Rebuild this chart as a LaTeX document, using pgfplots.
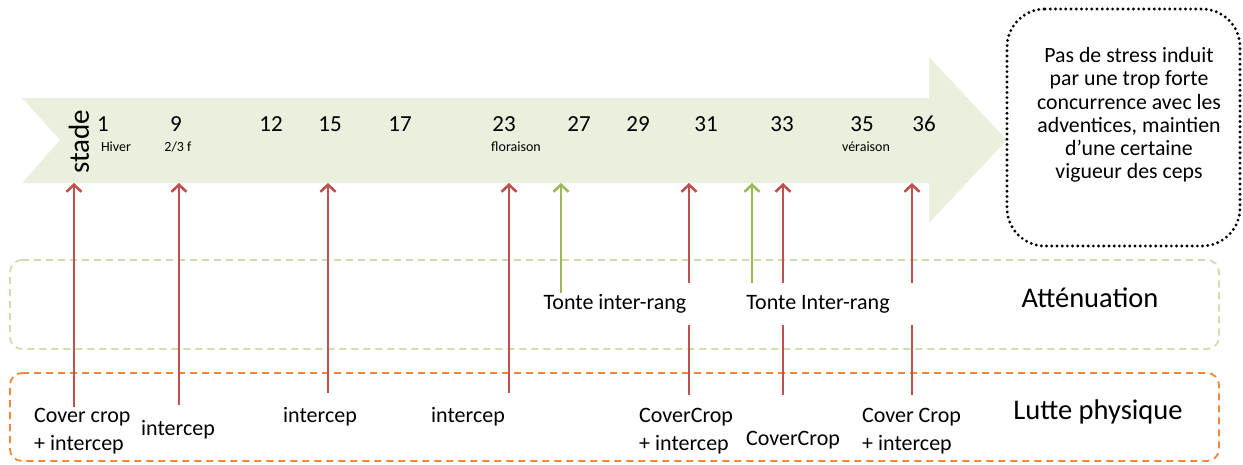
\documentclass[border=0pt]{standalone}
\usepackage{fontspec}
\setmainfont{Carlito}
\usepackage{pgfplots}
\pgfplotsset{compat=1.18}
\usetikzlibrary{arrows.meta}
\definecolor{band}{HTML}{EBF0DE}
\definecolor{rd}{HTML}{C0504D}
\definecolor{gr}{HTML}{9BBB59}
\definecolor{grbox}{HTML}{CCDDAE}
\definecolor{orbox}{HTML}{F0873A}
\tikzset{
  redarr/.style={rd, line width=2.6pt, -{Straight Barb[length=7pt,width=15pt]}},
  redline/.style={rd, line width=2.6pt},
  grarr/.style={gr, line width=2.6pt, -{Straight Barb[length=7pt,width=15pt]}},
  lab/.style={font=\fontsize{22}{27.5}\selectfont, inner sep=0pt},
  num/.style={font=\fontsize{23}{24}\selectfont, inner sep=0pt},
  small/.style={font=\fontsize{14}{15}\selectfont, inner sep=0pt},
}
\begin{document}
\begin{tikzpicture}
\begin{axis}[width=1243pt,height=464pt,scale only axis,
  xmin=0,xmax=1243,ymin=0,ymax=464,y dir=reverse,
  hide axis,clip=false]
\addplot[draw=none,forget plot] coordinates {(0,0) (1243,464)};
% big arrow band
\addplot[fill=band,draw=none] coordinates {(22,98) (929,98) (929,57) (1007,140) (929,223) (929,183) (22,183) (60,140)} -- cycle;
% dashed boxes
\addplot[grbox, line width=1.8pt, dash pattern=on 7pt off 5pt, rounded corners=12pt] coordinates {(10,260) (1219,260) (1219,349) (10,349)} -- cycle;
\addplot[orbox, line width=1.8pt, dash pattern=on 7pt off 5pt, rounded corners=12pt] coordinates {(10,373) (1219,373) (1219,461) (10,461)} -- cycle;
% dotted box
\addplot[black, line width=3.2pt, line cap=round, dash pattern=on 0pt off 5.2pt, rounded corners=38pt] coordinates {(1007,9) (1240,9) (1240,246) (1007,246)} -- cycle;
% red arrows
\addplot[redarr] coordinates {(74,407) (74,183)};
\addplot[redarr] coordinates {(179,405) (179,183)};
\addplot[redarr] coordinates {(328,393) (328,183)};
\addplot[redarr] coordinates {(509,393) (509,183)};
\addplot[redarr] coordinates {(689,283) (689,183)};
\addplot[redline] coordinates {(689,325) (689,395)};
\addplot[redarr] coordinates {(783,283) (783,183)};
\addplot[redline] coordinates {(783,325) (783,395)};
\addplot[redarr] coordinates {(912,283) (912,183)};
\addplot[redline] coordinates {(912,325) (912,395)};
% green arrows
\addplot[grarr] coordinates {(561,293) (561,183)};
\addplot[grarr] coordinates {(752,283) (752,183)};
% stage numbers
\node[num] at (axis cs:103,124) {1};
\node[num] at (axis cs:176,124) {9};
\node[num] at (axis cs:271,124) {12};
\node[num] at (axis cs:330,124) {15};
\node[num] at (axis cs:400,124) {17};
\node[num] at (axis cs:504,124) {23};
\node[num] at (axis cs:579,124) {27};
\node[num] at (axis cs:638,124) {29};
\node[num] at (axis cs:706,124) {31};
\node[num] at (axis cs:782,124) {33};
\node[num] at (axis cs:862,124) {35};
\node[num] at (axis cs:924,124) {36};
\node[small] at (axis cs:116,147) {Hiver};
\node[small] at (axis cs:178,147) {2/3 f};
\node[small] at (axis cs:516,147) {floraison};
\node[small] at (axis cs:866,147) {véraison};
\node[font=\fontsize{29}{30}\selectfont, inner sep=0pt, rotate=90] at (axis cs:79,142) {stade};
% box text
\node[font=\fontsize{21.8}{23.3}\selectfont, align=center, inner sep=0pt] at (axis cs:1129,115) {Pas de stress induit\\par une trop forte\\concurrence avec les\\adventices, maintien\\d’une certaine\\vigueur des ceps};
% categories
\node[font=\fontsize{28.5}{30}\selectfont, inner sep=0pt] at (axis cs:1090,298) {Atténuation};
\node[font=\fontsize{28.5}{30}\selectfont, inner sep=0pt] at (axis cs:1098,412) {Lutte physique};
% labels
\node[lab] at (axis cs:615,304) {Tonte inter-rang};
\node[lab] at (axis cs:818,304) {Tonte Inter-rang};
\node[lab, align=left, anchor=west] at (axis cs:34,431) {Cover crop\\+ intercep};
\node[lab] at (axis cs:178,430) {intercep};
\node[lab] at (axis cs:320,417) {intercep};
\node[lab] at (axis cs:468,417) {intercep};
\node[lab, align=left, anchor=west] at (axis cs:639,431) {CoverCrop\\+ intercep};
\node[lab] at (axis cs:793,440) {CoverCrop};
\node[lab, align=left, anchor=west] at (axis cs:862,431) {Cover Crop\\+ intercep};
\end{axis}
\end{tikzpicture}
\end{document}
